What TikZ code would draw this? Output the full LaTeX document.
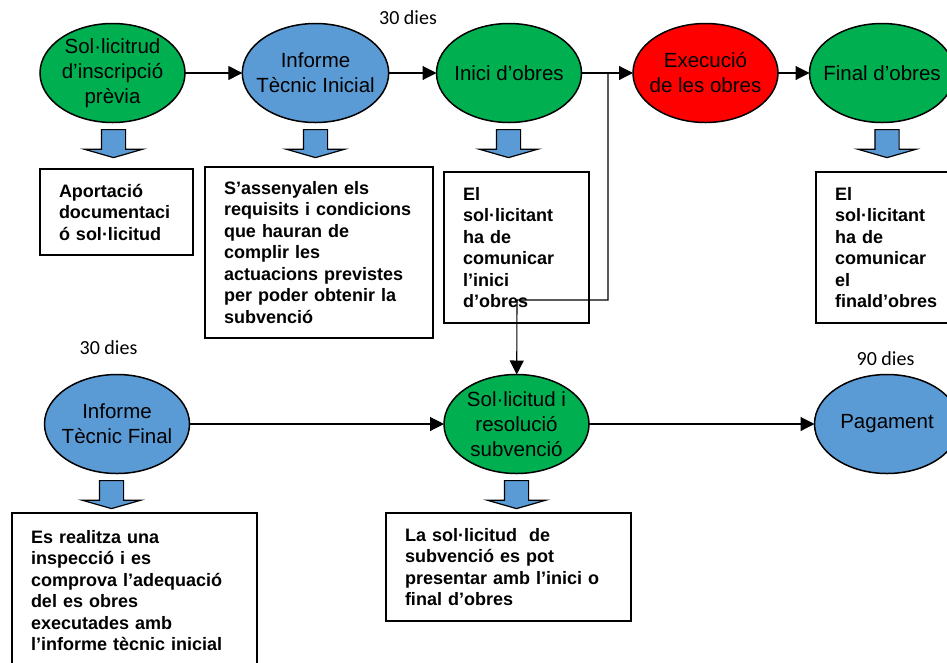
\documentclass[tikz,border=0pt]{standalone}
\usepackage{fontspec}
\setmainfont{Liberation Sans}
\newfontfamily\calibri{Carlito}
\usepackage{tikz}
\usepackage{tkz-graph}
\usetikzlibrary{shapes.geometric,shapes.arrows,arrows.meta}
\definecolor{etapaverd}{RGB}{0,176,80}
\definecolor{etapablau}{RGB}{91,155,213}
\definecolor{etapavermell}{RGB}{255,0,0}
\tikzset{
  fitxa/.style={draw,line width=1.6pt,text width=#1,inner xsep=19pt,align=left,
    font=\bfseries\fontsize{18}{21.5}\selectfont},
  fletxa/.style={draw,line width=1.2pt,fill=etapablau,single arrow,shape border rotate=270,
    minimum height=28pt,minimum width=57pt,single arrow head extend=17pt,
    single arrow tip angle=148,inner sep=11.5pt,anchor=tail},
  dies/.style={font=\calibri\fontsize{20}{24}\selectfont}
}

\begin{document}
\begin{tikzpicture}[x=1pt,y=-1pt]
  \GraphInit[vstyle=Normal]
  \tikzset{VertexStyle/.style={draw,shape=ellipse,line width=1.5pt,minimum width=145pt,
      minimum height=99pt,inner xsep=-7.5pt,inner ysep=0pt,align=center,
      font=\fontsize{20.5}{25}\selectfont},
    EdgeStyle/.style={draw,line width=1.1pt,-{Triangle[length=14pt,width=14pt]}}}
  \clip (0,0) rectangle (947,662);
  \Vertex[x=112.5,y=73,L={Sol·licitrud\\d’inscripció\\prèvia},style={fill=etapaverd}]{0}
  \Vertex[x=315.5,y=73,L={Informe\\Tècnic Inicial},style={fill=etapablau}]{1}
  \Vertex[x=509,y=73,L={Inici d’obres},style={fill=etapaverd}]{2}
  \Vertex[x=705.5,y=73,L={Execució\\de les obres},style={fill=etapavermell}]{3}
  \Vertex[x=882,y=73,L={Final d’obres},style={fill=etapaverd}]{4}
  \Vertex[x=117,y=424,L={Informe\\Tècnic Final},style={fill=etapablau}]{5}
  \Vertex[x=516.5,y=424,L={Sol·licitud i\\resolució\\subvenció},style={fill=etapaverd}]{6}
  \Vertex[x=887,y=424,L={Pagament},style={fill=etapablau}]{7}
  \Edges(0,1,2,3,4)
  \Edges(5,6,7)
  \coordinate (split) at (608,73);
  \coordinate (bend) at (517,300);
  \draw[EdgeStyle] (split) |- (bend) -- (6);
  \node[dies] (d1) at (408,18) {30 dies};
  \node[dies] (d2) at (108.5,348) {30 dies};
  \node[dies] (d3) at (885.5,359) {90 dies};
  \node[fletxa] (a0) at (113.5,129) {};
  \node[fletxa] (a1) at (315.5,129) {};
  \node[fletxa] (a2) at (508.5,129) {};
  \node[fletxa] (a4) at (887,129) {};
  \node[fletxa] (a5) at (111.5,480) {};
  \node[fletxa] (a6) at (516.5,480) {};
  \node[fitxa=115pt,minimum height=86pt] (t0) at (116.5,212) {Aportació\\documentaci\\ó sol·licitud};
  \node[fitxa=190pt,minimum height=171pt] (t1) at (319,252.5) {S’assenyalen els\\requisits i condicions\\que hauran de\\complir les\\actuacions previstes\\per poder obtenir la\\subvenció};
  \node[fitxa=107pt,minimum height=151pt] (t2) at (516.5,247.5) {El\\sol·licitant\\ha de\\comunicar\\l’inici\\d’obres};
  \node[fitxa=107pt,minimum height=151pt] (t4) at (888.5,247.5) {El\\sol·licitant\\ha de\\comunicar\\el\\finald’obres};
  \node[fitxa=207pt,minimum height=155pt] (t5) at (134.5,590.5) {Es realitza una\\inspecció i es\\comprova l’adequació\\del es obres\\executades amb\\l’informe tècnic inicial};
  \node[fitxa=207pt,minimum height=108pt] (t6) at (508.5,567) {La sol·licitud\ \ de\\subvenció es pot\\presentar amb l’inici o\\final d’obres};
\end{tikzpicture}
\end{document}
